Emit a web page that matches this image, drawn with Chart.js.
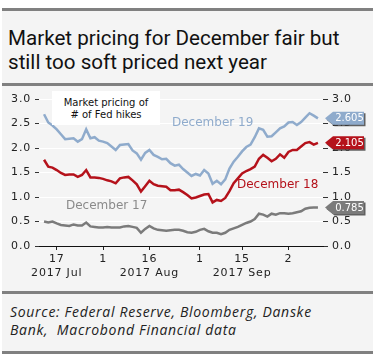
<!DOCTYPE html>
<html>
<head>
<meta charset="utf-8">
<script src="https://cdn.jsdelivr.net/npm/chart.js@4.4.0/dist/chart.umd.min.js"></script>
<style>
  body { margin: 0; width: 384px; height: 364px; overflow: hidden; position: relative; background: #fff; font-family: "DejaVu Sans", sans-serif; }
  #panel { position: absolute; left: 2px; top: 8px; width: 371px; height: 346px; background: #f4f4f4; }
  .rule { position: absolute; left: 2px; width: 371px; height: 3px; background: #808080; }
  #title { position: absolute; left: 8px; top: 26px; font: 20.6px Roboto, sans-serif; line-height: 24px; color: #111; white-space: nowrap; }
  #source { position: absolute; left: 10px; top: 303px; font: italic 14px "Open Sans", sans-serif; letter-spacing: 0.7px; line-height: 18px; color: #222; white-space: pre; }
  #wrap { position: absolute; left: 0; top: 86px; width: 384px; height: 205px; }
  .note { position: absolute; font: 12px "DejaVu Sans", sans-serif; line-height: 14px; white-space: nowrap; }
  #box { position: absolute; left: 52px; top: 91px; width: 108px; height: 34px; background: #fff; font: 10px "DejaVu Sans", sans-serif; line-height: 12px; text-align: center; padding-top: 6px; box-sizing: border-box; color: #111; }
</style>
</head>
<body>
<div id="panel"></div>
<div class="rule" style="top:8px"></div>
<div class="rule" style="top:83px"></div>
<div class="rule" style="top:291px"></div>
<div class="rule" style="top:351px"></div>
<div id="title">Market pricing for December fair but<br>still too soft priced next year</div>
<div id="wrap"><canvas id="chart"></canvas></div>
<div id="box">Market pricing of<br># of Fed hikes</div>
<div class="note" style="left:172px;top:115px;color:#8fabcc">December 19</div>
<div class="note" style="left:237px;top:177px;color:#b5121b">December 18</div>
<div class="note" style="left:66px;top:198px;color:#8a8a8a">December 17</div>
<div id="source">Source: Federal Reserve, Bloomberg, Danske
Bank,  Macrobond Financial data</div>
<script>
// business days, 12 Jul - 11 Oct 2017
const dates = [
  '2017-07-12','2017-07-13','2017-07-14','2017-07-17','2017-07-18','2017-07-19','2017-07-20','2017-07-21',
  '2017-07-24','2017-07-25','2017-07-26','2017-07-27','2017-07-28','2017-07-31',
  '2017-08-01','2017-08-02','2017-08-03','2017-08-04','2017-08-07','2017-08-08','2017-08-09','2017-08-10',
  '2017-08-11','2017-08-14','2017-08-15','2017-08-16','2017-08-17','2017-08-18','2017-08-21','2017-08-22',
  '2017-08-23','2017-08-24','2017-08-25','2017-08-28','2017-08-29','2017-08-30','2017-08-31',
  '2017-09-01','2017-09-04','2017-09-05','2017-09-06','2017-09-07','2017-09-08','2017-09-11','2017-09-12',
  '2017-09-13','2017-09-14','2017-09-15','2017-09-18','2017-09-19','2017-09-20','2017-09-21','2017-09-22',
  '2017-09-25','2017-09-26','2017-09-27','2017-09-28','2017-09-29',
  '2017-10-02','2017-10-03','2017-10-04','2017-10-05','2017-10-06','2017-10-09','2017-10-10','2017-10-11'
];

const dec19 = [
  2.69, 2.52, 2.46, 2.38, 2.28, 2.18, 2.19, 2.20, 2.13, 2.18, 2.38, 2.20, 2.22, 2.15, 2.13, 2.10,
  2.03, 1.96, 2.06, 2.07, 2.08, 1.95, 1.89, 1.76, 1.90, 1.96, 1.86, 1.82, 1.77, 1.78, 1.69, 1.64,
  1.66, 1.57, 1.50, 1.43, 1.47, 1.44, 1.55, 1.48, 1.27, 1.33, 1.26, 1.36, 1.58, 1.72, 1.82, 1.93,
  2.02, 2.07, 2.22, 2.40, 2.37, 2.23, 2.24, 2.32, 2.40, 2.44, 2.52, 2.53, 2.47, 2.53, 2.62, 2.71,
  2.66, 2.605
];
const dec18 = [
  1.76, 1.62, 1.60, 1.55, 1.49, 1.45, 1.46, 1.46, 1.41, 1.45, 1.55, 1.40, 1.40, 1.39, 1.37, 1.34,
  1.32, 1.28, 1.38, 1.40, 1.41, 1.34, 1.26, 1.11, 1.22, 1.33, 1.26, 1.23, 1.22, 1.21, 1.14, 1.14,
  1.15, 1.10, 1.04, 0.97, 0.99, 1.02, 1.05, 1.06, 0.89, 0.94, 0.92, 0.98, 1.12, 1.28, 1.38, 1.48,
  1.53, 1.57, 1.62, 1.78, 1.86, 1.80, 1.73, 1.78, 1.87, 1.80, 1.92, 1.96, 1.96, 2.03, 2.10, 2.12,
  2.07, 2.105
];
const dec17 = [
  0.50, 0.48, 0.50, 0.46, 0.43, 0.42, 0.41, 0.44, 0.42, 0.42, 0.48, 0.40, 0.39, 0.38, 0.38, 0.39,
  0.38, 0.38, 0.38, 0.40, 0.41, 0.39, 0.37, 0.27, 0.35, 0.41, 0.36, 0.33, 0.32, 0.31, 0.32, 0.33,
  0.33, 0.31, 0.28, 0.27, 0.29, 0.33, 0.35, 0.30, 0.27, 0.27, 0.24, 0.27, 0.33, 0.36, 0.39, 0.43,
  0.47, 0.50, 0.55, 0.66, 0.64, 0.60, 0.66, 0.64, 0.67, 0.67, 0.66, 0.67, 0.69, 0.71, 0.76, 0.78,
  0.785, 0.785
];

const tickDates = ['2017-07-17', '2017-08-01', '2017-08-16', '2017-09-01', '2017-09-15', '2017-10-02'];
const tickLabels = [['17', '2017 Jul'], '1', ['16', '2017 Aug'], '1', ['15', '2017 Sep'], '2'];
const yTicks = [0, 0.5, 1.0, 1.5, 2.0, 2.5, 3.0];

const toPoints = (arr) => arr.map((v, i) => ({ x: i, y: v }));
const tickFont = { family: 'DejaVu Sans', size: 11 };

// value tags on the right axis
const tagPlugin = {
  id: 'tags',
  beforeDraw(chart) { chart.ctx.letterSpacing = '0.8px'; },
  afterDraw(chart) {
    const ctx = chart.ctx;
    const y = chart.scales.y;
    const tip = chart.chartArea.right + 2;
    const left = tip + 8, right = left + 31, h = 6.5;
    ctx.save();
    chart.data.datasets.forEach((ds) => {
      const v = ds.data[ds.data.length - 1].y;
      const py = y.getPixelForValue(v);
      const shape = (dx, dy) => {
        ctx.beginPath();
        ctx.moveTo(tip + dx, py + dy);
        ctx.lineTo(left + dx, py - h + dy);
        ctx.lineTo(right + dx, py - h + dy);
        ctx.lineTo(right + dx, py + h + dy);
        ctx.lineTo(left + dx, py + h + dy);
        ctx.closePath();
      };
      shape(1.5, 1.5);
      ctx.fillStyle = 'rgba(60,60,60,0.8)';
      ctx.fill();
      shape(0, 0);
      ctx.fillStyle = ds.borderColor;
      ctx.fill();
      ctx.fillStyle = '#fff';
      ctx.font = '10px "DejaVu Sans"';
      ctx.letterSpacing = '0px';
      ctx.textAlign = 'center';
      ctx.textBaseline = 'middle';
      ctx.fillText(ds.tagText, (left + right) / 2 + 1, py + 0.5);
    });
    ctx.restore();
  }
};

new Chart(document.getElementById('chart'), {
  type: 'line',
  data: {
    datasets: [
      { label: 'December 19', data: toPoints(dec19), tagText: '2.605', borderColor: '#8fabcc', borderWidth: 2.5, pointRadius: 0 },
      { label: 'December 18', data: toPoints(dec18), tagText: '2.105', borderColor: '#b5121b', borderWidth: 2.5, pointRadius: 0 },
      { label: 'December 17', data: toPoints(dec17), tagText: '0.785', borderColor: '#7b7b7b', borderWidth: 2.5, pointRadius: 0 },
    ],
  },
  options: {
    responsive: true,
    maintainAspectRatio: false,
    animation: false,
    layout: { padding: { top: 13, left: 0, right: 0, bottom: 0 } },
    plugins: { legend: { display: false }, tooltip: { enabled: false } },
    scales: {
      x: {
        type: 'linear',
        min: -1.2,
        max: dates.length - 1 + 1.2,
        afterBuildTicks: (s) => { s.ticks = tickDates.map((d) => ({ value: dates.indexOf(d) })); },
        afterFit: (s) => { s.height = 45; },
        grid: { drawOnChartArea: false, tickLength: 4, tickColor: '#222' },
        border: { display: true, color: '#111', dash: [3, 2], width: 1 },
        ticks: {
          font: tickFont, color: '#222', padding: 3, maxRotation: 0, autoSkip: false,
          callback: (v) => tickLabels[tickDates.indexOf(dates[v])],
        },
      },
      y: {
        min: 0, max: 3,
        afterBuildTicks: (s) => { s.ticks = yTicks.map((v) => ({ value: v })); },
        afterFit: (s) => { s.width = 39; },
        grid: { color: (c) => (c.tick && c.tick.value === 0 ? 'rgba(0,0,0,0)' : '#ffffff'), lineWidth: 1, tickLength: 4, tickColor: '#333' },
        border: { display: false },
        ticks: { font: tickFont, color: '#222', padding: 4, callback: (v) => v.toFixed(1) },
      },
      y2: {
        position: 'right',
        min: 0, max: 3,
        afterBuildTicks: (s) => { s.ticks = yTicks.map((v) => ({ value: v })); },
        afterFit: (s) => { s.width = 61; },
        grid: { drawOnChartArea: false, tickLength: 5, tickColor: '#333' },
        border: { display: false },
        ticks: { font: tickFont, color: '#222', padding: 4, callback: (v) => v.toFixed(1) },
      },
    },
  },
  plugins: [tagPlugin],
});
</script>
</body>
</html>
